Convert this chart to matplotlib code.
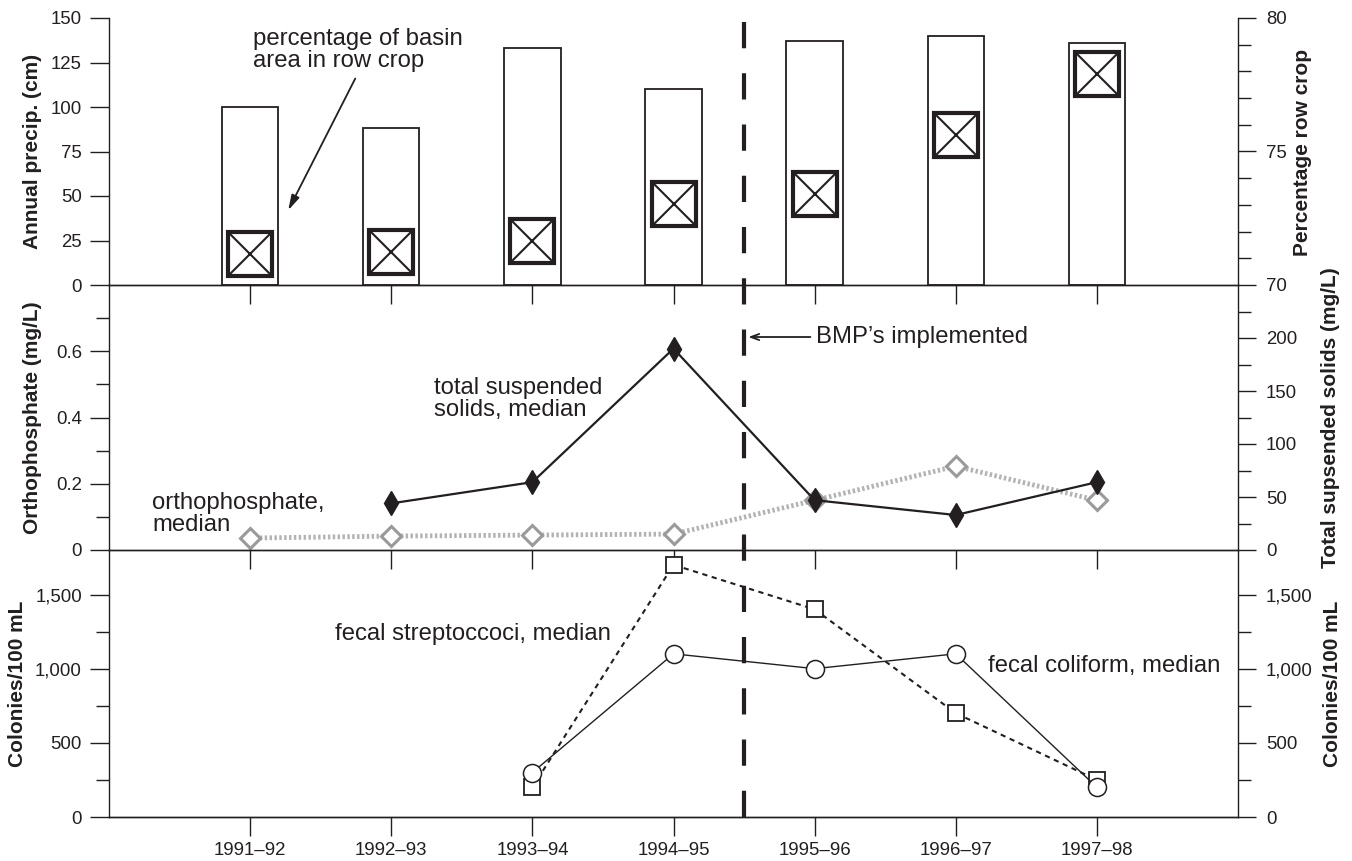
import numpy as np
import matplotlib
matplotlib.use('Agg')
import matplotlib.pyplot as plt
from matplotlib import transforms
from matplotlib.lines import Line2D
from matplotlib.ticker import FixedLocator, FuncFormatter

plt.rcParams['font.family'] = ['Liberation Sans', 'DejaVu Sans']

# data
years = ['1991\u201392', '1992\u201393', '1993\u201394', '1994\u201395',
         '1995\u201396', '1996\u201397', '1997\u201398']
precip_cm = [100, 88, 133, 110, 137, 140, 136]
row_crop_pct = [71.15, 71.25, 71.65, 73.05, 73.4, 75.6, 77.9]
ortho_mgl = [0.036, 0.042, 0.045, 0.048, 0.15, 0.253, 0.15]
tss_mgl = [np.nan, 44, 64, 190, 47, 33, 64]
strep_col = [np.nan, np.nan, 200, 1700, 1400, 700, 250]
coliform_col = [np.nan, np.nan, 300, 1100, 1000, 1100, 200]

INK = '#231f20'
GREY = '#9a9a9a'
W, H = 1352, 861


def fx(px):
    return px / W


def fy(py):
    return 1 - py / H


def style_axis(ax, side, major, minor=None, maj_len=14, min_len=9.5, pad=5.5):
    ax.set_facecolor('none')
    for s in ['top', 'left', 'right']:
        ax.spines[s].set_visible(False)
    ax.spines[side].set_visible(True)
    ax.spines[side].set_color(INK)
    ax.spines[side].set_linewidth(1.0)
    ax.spines['bottom'].set_color(INK)
    ax.spines['bottom'].set_linewidth(1.0)
    ax.yaxis.set_major_locator(FixedLocator(major))
    if minor is not None:
        ax.yaxis.set_minor_locator(FixedLocator(minor))
    ax.tick_params(axis='y', which='major', direction='out', length=maj_len,
                   width=1.0, color=INK, labelsize=13.4, labelcolor=INK, pad=pad)
    ax.tick_params(axis='y', which='minor', direction='out', length=min_len,
                   width=1.0, color=INK)


fig = plt.figure(figsize=(W / 100, H / 100), dpi=100)
left, right = fx(109), fx(1238)
rows = [(18, 285), (285, 550), (550, 817)]
axes = []
for top, bot in rows:
    ax = fig.add_axes([left, fy(bot), right - left, fy(top) - fy(bot)])
    axes.append(ax)
ax1, ax2, ax3 = axes
x = np.arange(len(years))

for ax in axes:
    ax.set_xlim(-1, 7)
    ax.set_xticks(x)
    ax.tick_params(axis='x', direction='out', length=14, width=1.0, color=INK,
                   labelsize=13.4, labelcolor=INK, pad=4)
ax1.set_xticklabels([])
ax2.set_xticklabels([])
ax3.set_xticklabels(years)

# top panel: precipitation bars and row-crop percentage
ax1.bar(x, precip_cm, width=0.4, facecolor='white', edgecolor=INK, linewidth=1.3)
ax1.set_ylim(0, 150)
style_axis(ax1, 'left', np.arange(0, 151, 25))
ax1r = ax1.twinx()
ax1r.set_ylim(70, 80)
style_axis(ax1r, 'right', [70, 75, 80], np.arange(71, 80), maj_len=13, pad=7)
ax1r.plot(x, row_crop_pct, 's', ms=32, mfc='white', mec=INK, mew=3.0)
ax1r.plot(x, row_crop_pct, 'x', ms=29, mec=INK, mew=1.5)

# middle panel: orthophosphate and suspended solids
ax2.plot(x, ortho_mgl, color='#b3b3b3', lw=3.5, ls=(0, (0.5, 0.5)),
         marker='D', ms=9.7, mfc='white', mec=GREY, mew=2.2)
ax2.set_ylim(0, 0.8)
style_axis(ax2, 'left', [0, 0.2, 0.4, 0.6], [0.1, 0.3, 0.5, 0.7])
ax2.yaxis.set_major_formatter(FuncFormatter(lambda v, p: '0' if v == 0 else f'{v:.1f}'))
ax2r = ax2.twinx()
ax2r.plot(x, tss_mgl, color=INK, lw=1.6, marker='d', ms=12.5, mfc=INK, mec=INK)
ax2r.set_ylim(0, 250)
style_axis(ax2r, 'right', np.arange(0, 201, 50), np.arange(25, 250, 50),
           maj_len=13, pad=7)

# bottom panel: bacteria
ax3.plot(x, strep_col, color=INK, lw=1.5, ls=(0, (2.5, 2.2)),
         marker='s', ms=11.5, mfc='white', mec=INK, mew=1.3)
ax3.plot(x, coliform_col, color=INK, lw=1.0,
         marker='o', ms=13, mfc='white', mec=INK, mew=1.1)
ax3.set_ylim(0, 1800)
style_axis(ax3, 'left', [0, 500, 1000, 1500], [250, 750, 1250])
comma = FuncFormatter(lambda v, p: f'{v:,.0f}')
ax3.yaxis.set_major_formatter(comma)
ax3r = ax3.twinx()
ax3r.set_ylim(0, 1800)
style_axis(ax3r, 'right', [0, 500, 1000, 1500], [250, 750, 1250], maj_len=13, pad=7)
ax3r.yaxis.set_major_formatter(comma)

# BMP line across all panels
trans = transforms.blended_transform_factory(ax3.transData, fig.transFigure)
fig.add_artist(Line2D([3.5, 3.5], [fy(817), fy(10)], transform=trans, color=INK,
                      lw=3.0, ls=(0, (6.3, 6.0)), zorder=10))

# annotations
afs = 17.2
ax1.text(0.02, 132, 'percentage of basin\narea in row crop', fontsize=afs,
         color=INK, va='center', ha='left', linespacing=1.0)
ax1.annotate('', xy=(0.27, 42), xytext=(0.745, 116),
             arrowprops=dict(arrowstyle='-|>,head_length=0.9,head_width=0.25',
                             color=INK, lw=1.3, shrinkA=0, shrinkB=0))
ax2.annotate('', xy=(3.53, 0.643), xytext=(3.97, 0.643),
             arrowprops=dict(arrowstyle='->,head_length=0.6,head_width=0.22',
                             color=INK, lw=1.3, shrinkA=0, shrinkB=0))
ax2.text(4.007, 0.643, 'BMP\u2019s implemented', fontsize=afs, color=INK,
         va='center', ha='left')
ax2.text(1.305, 0.456, 'total suspended\nsolids, median', fontsize=afs,
         color=INK, va='center', ha='left', linespacing=1.0)
ax2.text(-0.695, 0.108, 'orthophosphate,\nmedian', fontsize=afs,
         color=INK, va='center', ha='left', linespacing=1.0)
ax3.text(0.603, 1236, 'fecal streptoccoci, median', fontsize=afs,
         color=INK, va='center', ha='left')
ax3.text(5.227, 1020, 'fecal coliform, median', fontsize=afs,
         color=INK, va='center', ha='left')

# axis titles
lab = dict(fontsize=15, fontweight='bold', color=INK, rotation=90,
           ha='center', va='center')
fig.text(fx(33), fy(151), 'Annual precip. (cm)', **lab)
fig.text(fx(33), fy(418), 'Orthophosphate (mg/L)', **lab)
fig.text(fx(18), fy(684), 'Colonies/100 mL', **lab)
fig.text(fx(1303), fy(152), 'Percentage row crop', **lab)
fig.text(fx(1330), fy(418), 'Total supsended solids (mg/L)', **lab)
fig.text(fx(1333), fy(684), 'Colonies/100 mL', **lab)

fig.savefig('out.png', dpi=100)
